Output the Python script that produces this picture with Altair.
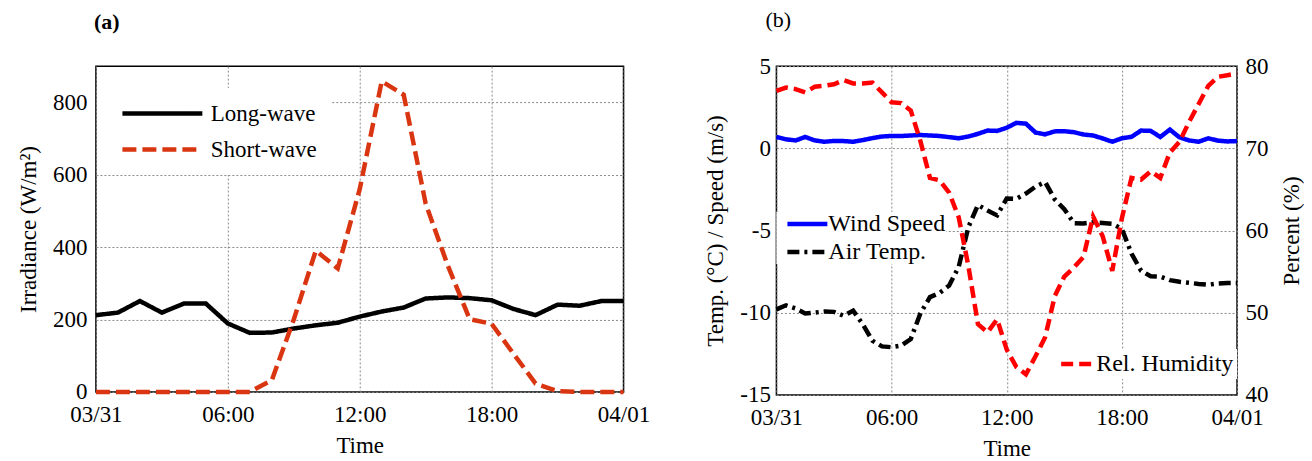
import altair as alt
import pandas as pd

FONT = "Liberation Serif"

# ---------- shared x axis (hours since 03/31 00:00) ----------
tick_hours = [0, 6, 12, 18, 24]
tick_labels = ["03/31", "06:00", "12:00", "18:00", "04/01"]

# ---------- panel (a): irradiance, hourly ----------
hours_a = list(range(25))
long_wave = [212, 219, 251, 219, 244, 244, 189, 163, 164, 175, 184, 191, 208,
             222, 233, 258, 261, 259, 253, 229, 212, 241, 238, 251, 251]
short_wave = [0, 0, 0, 0, 0, 0, 0, 0, 32, 200, 390, 341, 560,
              858, 821, 520, 350, 201, 188, 105, 23, 2, 0, 0, 0]
series_a = ["Long-wave", "Short-wave"]
colors_a = ["#000000", "#DA3511"]
dashes_a = [[1, 0], [14, 6]]
ticks_a = [0, 200, 400, 600, 800]

# ---------- panel (b): meteorology, half-hourly ----------
hours_b = [i * 0.5 for i in range(49)]
wind_speed = [0.69, 0.55, 0.48, 0.69, 0.48, 0.40, 0.45, 0.44, 0.40, 0.50, 0.62, 0.72,
              0.75, 0.75, 0.78, 0.81, 0.78, 0.75, 0.68, 0.61, 0.72, 0.88, 1.08, 1.06,
              1.25, 1.55, 1.50, 0.96, 0.85, 1.03, 1.04, 0.98, 0.84, 0.78, 0.60, 0.40,
              0.61, 0.70, 1.08, 1.06, 0.69, 1.14, 0.67, 0.48, 0.40, 0.61, 0.47, 0.42, 0.44]
air_temp = [-9.80, -9.55, -9.74, -10.05, -9.99, -9.93, -9.95, -10.19, -9.88, -10.70, -11.70, -12.05,
            -12.10, -12.00, -11.60, -10.05, -9.05, -8.80, -8.35, -7.20, -4.80, -3.45, -3.78, -4.08,
            -3.05, -3.07, -2.75, -2.33, -2.05, -3.10, -3.70, -4.55, -4.57, -4.50, -4.55, -4.60,
            -4.90, -6.40, -7.45, -7.78, -7.80, -8.02, -8.12, -8.18, -8.25, -8.30, -8.22, -8.19, -8.19]
rel_humidity = [77.0, 77.4, 77.2, 76.8, 77.5, 77.6, 77.8, 78.3, 77.9, 77.9, 78.0, 76.8,
                75.6, 75.5, 74.6, 70.9, 66.4, 66.1, 64.6, 61.6, 55.7, 48.6, 47.6, 49.2,
                45.5, 43.4, 42.5, 44.7, 47.0, 52.0, 54.4, 55.5, 56.8, 61.7, 59.3, 55.1,
                61.5, 66.4, 66.2, 67.2, 66.4, 69.5, 70.8, 73.2, 75.4, 77.6, 78.7, 78.9, 79.1]
series_b_left = ["Wind Speed", "Air Temp."]
colors_b_left = ["#0000FF", "#000000"]
dashes_b_left = [[1, 0], [12, 5, 3, 5]]
series_b_right = ["Rel. Humidity"]
colors_b_right = ["#FF0000"]
dashes_b_right = [[12, 6]]
ticks_b_left = [-15, -10, -5, 0, 5]
ticks_b_right = [40, 50, 60, 70, 80]

# ---------- tables ----------
df_a = pd.DataFrame({
    "hour": hours_a * 2,
    "value": long_wave + short_wave,
    "series": [series_a[0]] * len(hours_a) + [series_a[1]] * len(hours_a),
})
df_b_left = pd.DataFrame({
    "hour": hours_b * 2,
    "value": wind_speed + air_temp,
    "series": [series_b_left[0]] * len(hours_b) + [series_b_left[1]] * len(hours_b),
})
df_b_right = pd.DataFrame({
    "hour": hours_b,
    "value": rel_humidity,
    "series": series_b_right * len(hours_b),
})

label_expr = " : ".join(
    f"datum.value == {h} ? '{lab}'" for h, lab in zip(tick_hours, tick_labels)
) + " : ''"
plain_number = "'' + datum.value"   # hyphen-minus like the original


def x_enc():
    return alt.X(
        "hour:Q",
        scale=alt.Scale(domain=[0, 24], nice=False, zero=False),
        axis=alt.Axis(values=tick_hours, labelExpr=label_expr, title="Time",
                      labelPadding=12, titlePadding=8, labelFlush=False),
    )


def legend(x, y, shape, size, sw, fs, pad, rowpad, offset):
    return alt.Legend(
        title=None, orient="none", legendX=x, legendY=y,
        symbolType=shape, symbolSize=size, symbolStrokeWidth=sw,
        labelFont=FONT, labelFontSize=fs, labelColor="black", labelLimit=400,
        labelOffset=offset, fillColor="white", padding=pad, rowPadding=rowpad,
    )


# ---------- panel (a) ----------
leg_a = legend(1, 22, "M0,0H8", 400, 4.5, 23, 13, 11, 76)
panel_a = alt.Chart(df_a).mark_line(strokeWidth=4.5).encode(
    x=x_enc(),
    y=alt.Y("value:Q", scale=alt.Scale(domain=[0, 900], nice=False),
            axis=alt.Axis(values=ticks_a, title="Irradiance (W/m²)",
                          labelPadding=9, titlePadding=12)),
    color=alt.Color("series:N", scale=alt.Scale(domain=series_a, range=colors_a), legend=leg_a),
    strokeDash=alt.StrokeDash("series:N", scale=alt.Scale(domain=series_a, range=dashes_a), legend=leg_a),
).properties(
    width=528, height=326,
    title=alt.Title("(a)", fontWeight="bold", fontSize=22,
                    anchor="start", frame="group", dx=-2, offset=32),
)

# ---------- panel (b) ----------
leg_b_left = legend(0, 146, "M-0.2,0H7.8", 100, 4.5, 24, 0, 4, 28)
leg_b_right = legend(270, 283, "M0,0H8", 81, 4.5, 24, 3, 5, 23)

left_layer = alt.Chart(df_b_left).mark_line(strokeWidth=4.5).encode(
    x=x_enc(),
    y=alt.Y("value:Q", scale=alt.Scale(domain=[-15, 5], nice=False),
            axis=alt.Axis(values=ticks_b_left, orient="left", labelExpr=plain_number,
                          title="Temp. (°C) / Speed (m/s)", labelPadding=6, titlePadding=12)),
    color=alt.Color("series:N", scale=alt.Scale(domain=series_b_left, range=colors_b_left), legend=leg_b_left),
    strokeDash=alt.StrokeDash("series:N", scale=alt.Scale(domain=series_b_left, range=dashes_b_left), legend=leg_b_left),
)
right_layer = alt.Chart(df_b_right).mark_line(strokeWidth=4.5).encode(
    x=x_enc(),
    y=alt.Y("value:Q", scale=alt.Scale(domain=[40, 80], nice=False),
            axis=alt.Axis(values=ticks_b_right, orient="right", grid=False,
                          title="Percent (%)", titleAngle=270, titleBaseline="top",
                          labelPadding=8, titlePadding=12)),
    color=alt.Color("series:N", scale=alt.Scale(domain=series_b_right, range=colors_b_right), legend=leg_b_right),
    strokeDash=alt.StrokeDash("series:N", scale=alt.Scale(domain=series_b_right, range=dashes_b_right), legend=leg_b_right),
)
panel_b = alt.layer(left_layer, right_layer).resolve_scale(
    y="independent", color="independent", strokeDash="independent"
).properties(
    width=461, height=329,
    title=alt.Title("(b)", fontWeight="normal", fontSize=22,
                    anchor="start", frame="group", dx=-11, offset=23),
)

chart = alt.hconcat(panel_a, panel_b, spacing=53).properties(
    padding={"left": 8, "top": 0, "right": 0, "bottom": 0},
).configure(
    font=FONT,
).configure_view(
    stroke="black", strokeWidth=1.5,
).configure_axis(
    labelFont=FONT, labelFontSize=23, labelColor="black",
    titleFont=FONT, titleFontSize=23, titleFontWeight="normal", titleColor="black",
    domain=False, ticks=False,
    grid=True, gridColor="#8a8a8a", gridDash=[2, 2], gridWidth=1,
).configure_title(
    font=FONT, color="black",
)

chart.save("out.html", embed_options={"renderer": "svg", "actions": False})
